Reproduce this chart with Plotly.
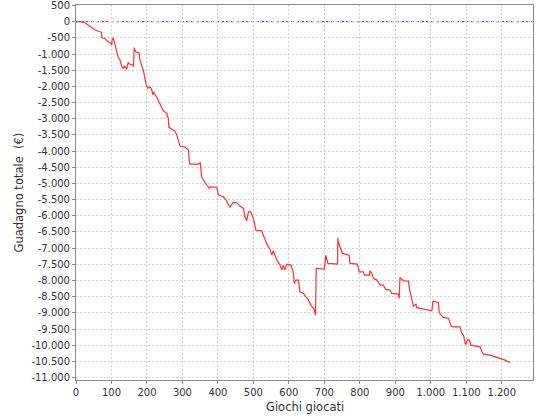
import plotly.graph_objects as go

# Games played (x) and cumulative total winnings in € (y)
giochi = [0, 11, 25, 30, 44, 54, 72, 73, 82, 87, 96, 101, 102, 105, 108, 115, 119, 124, 129, 133,
          136, 143, 147, 152, 160, 162, 164, 168, 178, 180, 185, 190, 197, 202, 209, 213, 217, 218, 227, 232,
          242, 246, 256, 260, 262, 270, 279, 284, 288, 293, 307, 317, 319, 321, 345, 350, 352, 354, 362, 368,
          376, 380, 397, 401, 415, 423, 434, 443, 453, 462, 472, 476, 481, 486, 492, 500, 507, 523, 528, 533,
          538, 547, 552, 556, 561, 566, 575, 580, 584, 589, 594, 606, 613, 615, 620, 627, 631, 641, 655, 662,
          671, 675, 677, 700, 704, 710, 737, 738, 739, 744, 751, 758, 770, 772, 793, 798, 810, 813, 827, 828,
          834, 838, 848, 857, 866, 873, 885, 890, 909, 911, 913, 923, 937, 940, 947, 951, 958, 960, 970, 998,
          1003, 1006, 1021, 1024, 1035, 1050, 1057, 1064, 1082, 1087, 1092, 1097, 1099, 1104, 1109, 1113, 1139, 1144, 1148, 1167,
          1181, 1200, 1209, 1223]
guadagno = [0, 0, -32, -72, -205, -258, -329, -496, -527, -588, -650, -721, -545, -514, -619, -876, -1102, -1185, -1392, -1442,
            -1371, -1463, -1269, -1318, -1340, -1392, -805, -929, -959, -1185, -1340, -1516, -1906, -2060, -2011, -2091, -2267, -2165, -2320, -2422,
            -2648, -2753, -2833, -2988, -3266, -3309, -3381, -3504, -3659, -3845, -3876, -3969, -4278, -4402, -4402, -4361, -4534, -4794, -4948, -5050,
            -5152, -5103, -5121, -5359, -5412, -5514, -5740, -5585, -5597, -5699, -5771, -6030, -6154, -5876, -5876, -6080, -6442, -6463, -6596, -6751,
            -6875, -7038, -7215, -7082, -7215, -7369, -7524, -7679, -7524, -7679, -7493, -7524, -7780, -8090, -7987, -7987, -8349, -8399, -8606, -8761,
            -8884, -9070, -7626, -7647, -7215, -7471, -7493, -6680, -6803, -6958, -7162, -7184, -7215, -7471, -7493, -7731, -7731, -7833, -7833, -7700,
            -7780, -7935, -7987, -8141, -8141, -8275, -8297, -8399, -8420, -8553, -7910, -8009, -8019, -8275, -8553, -8791, -8730, -8832, -8863, -8915,
            -8937, -8637, -8677, -8999, -9141, -9172, -9410, -9432, -9432, -9617, -9688, -9945, -9976, -9821, -9843, -9997, -10050, -10204, -10276, -10307,
            -10359, -10409, -10461, -10532]

x_ticks = list(range(0, 1300, 100))
x_labels = ["0", "100", "200", "300", "400", "500", "600", "700", "800", "900", "1.000", "1.100", "1.200"]
y_ticks = list(range(500, -11500, -500))
y_labels = ["500", "0", "-500", "-1.000", "-1.500", "-2.000", "-2.500", "-3.000", "-3.500", "-4.000",
            "-4.500", "-5.000", "-5.500", "-6.000", "-6.500", "-7.000", "-7.500", "-8.000", "-8.500",
            "-9.000", "-9.500", "-10.000", "-10.500", "-11.000"]

fig = go.Figure()
fig.add_hline(y=0, line=dict(color="#3c3cff", width=1, dash="3px,2px"), layer="below")
fig.add_trace(go.Scatter(x=giochi, y=guadagno, mode="lines",
                         line=dict(color="#ff3030", width=1.2), showlegend=False,
                         cliponaxis=True, hoverinfo="skip"))

font = dict(family="DejaVu Sans", size=10, color="#333333")
title_font = dict(family="DejaVu Sans", size=11.5, color="#333333")
fig.update_layout(
    width=540, height=420,
    margin=dict(l=76, r=7, t=5, b=40, autoexpand=False),
    paper_bgcolor="white", plot_bgcolor="white",
    font=font,
    showlegend=False,
    annotations=[
        dict(text="Giochi giocati", xref="paper", yref="paper", x=0.5, y=0,
             yshift=-27, showarrow=False, font=title_font, xanchor="center", yanchor="middle"),
        dict(text="Guadagno totale  (€)", xref="paper", yref="paper", x=0, y=0.5,
             xshift=-58, showarrow=False, font=title_font, textangle=-90,
             xanchor="center", yanchor="middle"),
    ],
)
fig.update_xaxes(
    range=[0, 1288], tickvals=x_ticks, ticktext=x_labels, automargin=False,
    ticklabeloverflow="allow",
    showgrid=True, gridcolor="#d0d0d0", griddash="2px,2px", gridwidth=1,
    showline=True, linecolor="#8c8c8c", linewidth=1, mirror=True,
    ticks="outside", ticklen=3, tickcolor="#8c8c8c", zeroline=False,
)
fig.update_yaxes(
    range=[-11075, 515], tickvals=y_ticks, ticktext=y_labels, automargin=False,
    ticklabeloverflow="allow",
    showgrid=True, gridcolor="#d0d0d0", griddash="2px,2px", gridwidth=1,
    showline=True, linecolor="#8c8c8c", linewidth=1, mirror=True,
    ticks="outside", ticklen=3, tickcolor="#8c8c8c", zeroline=False,
)
fig.write_html("out.html", config={"displayModeBar": False},
               post_script="document.body.style.margin='0px';")
